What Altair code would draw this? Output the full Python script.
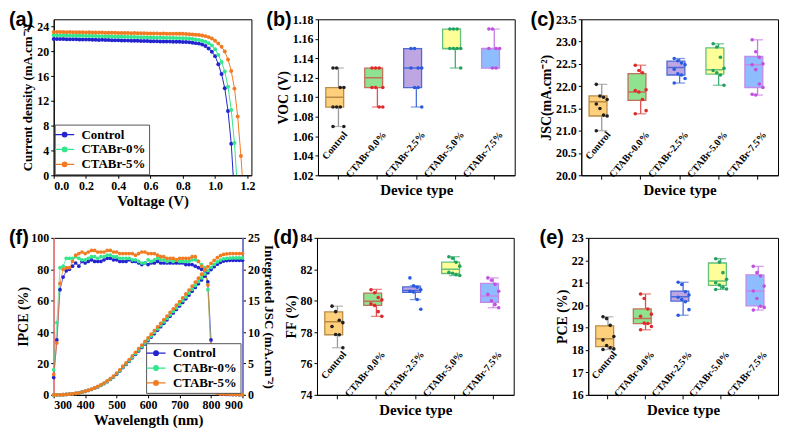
import altair as alt
import pandas as pd

SERIF = "Liberation Serif"
SANS = "Liberation Sans"

# ---------------- (a) J-V curves ----------------
SERIES = ["Control", "CTABr-0%", "CTABr-5%"]
SERIES_COLORS = ["#2323cf", "#34e68d", "#f27b22"]

V_GRID = [0.00, 0.02, 0.04, 0.06, 0.08, 0.10, 0.12, 0.14, 0.16, 0.18,
          0.20, 0.22, 0.24, 0.26, 0.28, 0.30, 0.32, 0.34, 0.36, 0.38,
          0.40, 0.42, 0.44, 0.46, 0.48, 0.50, 0.52, 0.54, 0.56, 0.58,
          0.60, 0.62, 0.64, 0.66, 0.68, 0.70, 0.72, 0.74, 0.76, 0.78,
          0.80, 0.82, 0.84, 0.86, 0.88, 0.90, 0.92, 0.94, 0.96, 0.98,
          1.00, 1.02, 1.04, 1.06, 1.08, 1.10, 1.12, 1.14, 1.16]

J_CONTROL = [22.02, 22.03, 22.00, 22.01, 21.98, 21.99, 21.96, 21.97, 21.94, 21.95,
             21.92, 21.93, 21.90, 21.90, 21.87, 21.88, 21.85, 21.86, 21.83, 21.83,
             21.80, 21.78, 21.79, 21.76, 21.74, 21.75, 21.72, 21.70, 21.71, 21.68,
             21.66, 21.67, 21.64, 21.62, 21.63, 21.60, 21.60, 21.57, 21.56, 21.56,
             21.55, 21.52, 21.48, 21.42, 21.35, 21.27, 21.12, 20.88, 20.48, 19.95,
             19.25, 17.95, 16.35, 14.05, 10.40, 5.10]
J_CTA0 = [22.62, 22.63, 22.60, 22.61, 22.58, 22.59, 22.56, 22.57, 22.54, 22.55,
          22.52, 22.53, 22.50, 22.50, 22.47, 22.48, 22.45, 22.46, 22.43, 22.43,
          22.40, 22.38, 22.39, 22.36, 22.34, 22.35, 22.32, 22.30, 22.31, 22.28,
          22.26, 22.27, 22.24, 22.22, 22.23, 22.20, 22.20, 22.17, 22.16, 22.16,
          22.15, 22.12, 22.08, 22.02, 21.95, 21.86, 21.74, 21.58, 21.35, 20.95,
          20.35, 19.45, 18.30, 16.75, 14.30, 10.55, 5.20]
J_CTA5 = [23.15, 23.16, 23.13, 23.15, 23.12, 23.13, 23.10, 23.12, 23.09, 23.10,
          23.08, 23.09, 23.06, 23.07, 23.05, 23.06, 23.03, 23.04, 23.02, 23.02,
          23.00, 22.99, 23.00, 22.97, 22.96, 22.97, 22.94, 22.93, 22.94, 22.91,
          22.90, 22.91, 22.89, 22.88, 22.89, 22.87, 22.87, 22.86, 22.85, 22.86,
          22.85, 22.82, 22.80, 22.76, 22.72, 22.66, 22.58, 22.48, 22.32, 22.10,
          21.75, 21.30, 20.75, 20.00, 18.70, 16.85, 14.00, 9.50, 3.10]
V_END = [1.112, 1.133, 1.168]

# ---------------- (f) IPCE + integrated Jsc ----------------
WL = list(range(300, 901, 10))
IPCE_CONTROL = [11, 35, 67, 75, 79, 80, 82, 84, 82, 85,
                84, 85, 86, 85, 85, 85, 86, 87, 87, 86,
                86, 85, 85, 85, 86, 85, 85, 84, 83, 84,
                83, 84, 84, 85, 84, 84, 84, 84, 84, 84,
                84, 84, 83, 83, 83, 82, 81, 80, 79, 72,
                35, 8, 1.5, 0.5, 0.5, 0.3, 0.3, 0.2, 0.2, 0.1, 0.1]
IPCE_CTA0 = [16, 46, 81, 82, 87, 87, 87, 88, 87, 86,
             86, 87, 88, 88, 87, 88, 88, 89, 89, 88,
             88, 87, 87, 87, 87, 86, 86, 85, 84, 84,
             86, 85, 86, 87, 86, 86, 85, 86, 85, 86,
             85, 85, 85, 85, 86, 86, 85, 83, 81, 67,
             30, 6, 2, 1.5, 1.5, 1.5, 1.5, 0.5, 0.3, 0.2, 0.2]
IPCE_CTA5 = [13, 33, 71, 80, 81, 81, 85, 89, 90, 91,
             90, 91, 92, 92, 91, 91, 91, 92, 92, 91,
             91, 90, 90, 90, 90, 90, 89, 90, 91, 91,
             90, 90, 90, 89, 88, 88, 87, 87, 87, 86,
             87, 87, 87, 87, 88, 88, 85, 82, 80, 70,
             25, 4, 1, 0.5, 0.5, 0.5, 0.3, 0.3, 0.2, 0.2, 0.2]
JSC_CONTROL = [0.0, 0.0, 0.01, 0.03, 0.06, 0.1, 0.15, 0.22, 0.31, 0.42,
               0.55, 0.7, 0.87, 1.06, 1.28, 1.52, 1.8, 2.1, 2.45, 2.85,
               3.3, 3.8, 4.35, 4.85, 5.35, 5.9, 6.45, 7.0, 7.55, 8.1,
               8.65, 9.2, 9.75, 10.3, 10.85, 11.4, 11.95, 12.5, 13.05, 13.6,
               14.15, 14.72, 15.3, 15.9, 16.5, 17.1, 17.7, 18.3, 18.9, 19.45,
               19.95, 20.4, 20.8, 21.1, 21.3, 21.38, 21.42, 21.43, 21.43, 21.43, 21.43]
JSC_CTA0 = [0.0, 0.0, 0.01, 0.03, 0.06, 0.1, 0.16, 0.23, 0.32, 0.43,
            0.56, 0.72, 0.89, 1.08, 1.3, 1.55, 1.84, 2.14, 2.5, 2.9,
            3.36, 3.87, 4.43, 4.94, 5.45, 6.0, 6.57, 7.13, 7.69, 8.25,
            8.81, 9.37, 9.93, 10.49, 11.05, 11.61, 12.17, 12.73, 13.29, 13.85,
            14.41, 14.99, 15.58, 16.19, 16.8, 17.41, 18.02, 18.63, 19.24, 19.8,
            20.31, 20.77, 21.17, 21.47, 21.67, 21.75, 21.79, 21.8, 21.8, 21.8, 21.8]
JSC_CTA5 = [0.0, 0.0, 0.01, 0.03, 0.06, 0.11, 0.16, 0.23, 0.33, 0.44,
            0.58, 0.74, 0.91, 1.11, 1.34, 1.6, 1.89, 2.21, 2.57, 2.99,
            3.47, 3.99, 4.57, 5.09, 5.62, 6.2, 6.77, 7.35, 7.93, 8.51,
            9.08, 9.66, 10.24, 10.82, 11.39, 11.97, 12.55, 13.13, 13.7, 14.28,
            14.86, 15.46, 16.07, 16.7, 17.33, 17.96, 18.59, 19.22, 19.85, 20.42,
            20.95, 21.42, 21.84, 22.16, 22.37, 22.45, 22.49, 22.5, 22.5, 22.5, 22.5]

# ---------------- box plots (b)-(e) ----------------
CATS = ["Control", "CTABr-0.0%", "CTABr-2.5%", "CTABr-5.0%", "CTABr-7.5%"]
BOX_FILL = ["#ffd07c", "#8fe28f", "#bea6e3", "#ffff99", "#8ebdff"]
BOX_EDGE = ["#b98c47", "#c2705a", "#4d6bd8", "#62c27a", "#c48ae8"]
WHISKER = ["#9a9a9a", "#e05050", "#4a72d8", "#3fae72", "#c77ae6"]
DOT = ["#202020", "#e02a2a", "#2a5ae0", "#22a060", "#c050e0"]

VOC_Q1 = [1.09, 1.11, 1.11, 1.15, 1.13]
VOC_MED = [1.10, 1.12, 1.13, 1.15, 1.15]
VOC_Q3 = [1.11, 1.13, 1.15, 1.17, 1.15]
VOC_LO = [1.07, 1.09, 1.09, 1.13, 1.13]
VOC_HI = [1.13, 1.13, 1.15, 1.17, 1.17]
VOC_PTS = [[1.13, 1.13, 1.11, 1.11, 1.09, 1.09, 1.09, 1.07, 1.07],
           [1.13, 1.13, 1.13, 1.11, 1.11, 1.11, 1.09, 1.09],
           [1.15, 1.15, 1.13, 1.13, 1.13, 1.11, 1.11, 1.09],
           [1.17, 1.17, 1.17, 1.15, 1.15, 1.15, 1.15, 1.13],
           [1.17, 1.17, 1.15, 1.15, 1.15, 1.13, 1.13]]

JSC_Q1 = [21.33, 21.68, 22.25, 22.27, 21.97]
JSC_MED = [21.65, 21.87, 22.42, 22.37, 22.48]
JSC_Q3 = [21.78, 22.28, 22.56, 22.86, 22.67]
JSC_LO = [21.0, 21.38, 22.07, 22.02, 21.8]
JSC_HI = [22.04, 22.47, 22.62, 22.95, 23.04]
JSC_PTS = [[22.04, 21.78, 21.75, 21.7, 21.6, 21.5, 21.35, 21.33, 21.0],
           [22.47, 22.35, 22.3, 21.92, 21.9, 21.87, 21.7, 21.45, 21.38],
           [22.62, 22.57, 22.52, 22.48, 22.38, 22.28, 22.25, 22.17, 22.07],
           [22.95, 22.88, 22.65, 22.4, 22.35, 22.3, 22.25, 22.02],
           [23.04, 22.77, 22.65, 22.5, 22.48, 22.37, 22.05, 21.97, 21.82, 21.8]]

FF_Q1 = [77.83, 79.7, 80.53, 81.73, 79.9]
FF_MED = [78.65, 79.97, 80.65, 82.0, 80.3]
FF_Q3 = [79.28, 80.48, 80.88, 82.45, 81.1]
FF_LO = [77.0, 79.0, 80.07, 81.6, 79.55]
FF_HI = [79.65, 80.72, 80.95, 82.8, 81.45]
FF_PTS = [[79.65, 79.3, 78.75, 78.6, 78.35, 77.85, 77.83, 77.0],
          [80.7, 80.5, 80.2, 80.05, 79.8, 79.7, 79.3, 79.0],
          [81.45, 80.95, 80.85, 80.7, 80.6, 80.55, 80.07, 79.45],
          [82.8, 82.7, 82.45, 82.2, 81.8, 81.75, 81.65, 81.6],
          [81.45, 81.3, 81.05, 80.6, 80.4, 80.0, 79.75, 79.55]]

PCE_Q1 = [18.15, 19.18, 20.18, 20.88, 19.97]
PCE_MED = [18.5, 19.4, 20.38, 21.08, 20.63]
PCE_Q3 = [19.08, 19.83, 20.63, 21.88, 21.35]
PCE_LO = [18.02, 18.9, 19.55, 20.7, 19.78]
PCE_HI = [19.48, 20.5, 21.02, 22.07, 21.73]
PCE_PTS = [[19.48, 19.4, 19.1, 18.6, 18.45, 18.2, 18.1, 18.05, 18.02],
           [20.5, 20.3, 19.83, 19.6, 19.5, 19.2, 19.18, 19.05, 18.9],
           [21.02, 20.92, 20.6, 20.45, 20.35, 20.25, 20.15, 19.8, 19.55],
           [22.07, 21.92, 21.45, 21.15, 21.0, 20.9, 20.8, 20.72, 20.7],
           [21.73, 21.45, 21.3, 20.85, 20.63, 20.3, 19.95, 19.9, 19.78]]

assert len(J_CONTROL) == 56 and len(J_CTA0) == 57 and len(J_CTA5) == 59
for arr in [IPCE_CONTROL, IPCE_CTA0, IPCE_CTA5, JSC_CONTROL, JSC_CTA0, JSC_CTA5]:
    assert len(arr) == len(WL), len(arr)

LEG_PATH = "M-1.6,0L1.6,0M-0.38,0A0.38,0.38 0 1,0 0.38,0A0.38,0.38 0 1,0 -0.38,0Z"
LANES = [-2, -1, 0, 1, 2, 3, 4, 5]


def panel_label(tag, dx, dy):
    return alt.Chart(pd.DataFrame({"t": [tag]})).mark_text(
        align="left", baseline="top", font=SANS, fontSize=20,
        fontWeight="bold", color="black"
    ).encode(x=alt.value(dx), y=alt.value(dy), text="t:N")


def series_legend(orient, offset):
    return alt.Legend(
        title=None, orient=orient, offset=offset, symbolType=LEG_PATH,
        symbolSize=144, symbolStrokeWidth=1.3, labelFont=SERIF,
        labelFontWeight="bold", labelFontSize=13, labelColor="black",
        strokeColor="#555555", fillColor="white", padding=3,
        rowPadding=1, labelOffset=10, cornerRadius=0
    )


sc_ser = alt.Scale(domain=SERIES, range=SERIES_COLORS)

# ---- panel (a)
rows = []
for s, J, vend in zip(SERIES, [J_CONTROL, J_CTA0, J_CTA5], V_END):
    for v, j in zip(V_GRID[:len(J)], J):
        rows.append({"series": s, "V": v, "J": j})
    rows.append({"series": s, "V": vend, "J": 0.0})
jv = pd.DataFrame(rows)
jv_pts = jv[jv["J"] > 0]

Xa = alt.X("V:Q", scale=alt.Scale(domain=[0, 1.225], nice=False, zero=False),
           axis=alt.Axis(title="Voltage (V)", values=[0, 0.2, 0.4, 0.6, 0.8, 1.0, 1.2],
                         format=".1f", titleFontSize=15))
Ya = alt.Y("J:Q", scale=alt.Scale(domain=[0, 25.2], nice=False),
           axis=alt.Axis(title="Current density (mA.cm⁻²)", values=[0, 4, 8, 12, 16, 20, 24],
                         titleFontSize=13))
leg_a = series_legend("bottom-left", 1)
a_line = alt.Chart(jv).mark_line(strokeWidth=1, clip=True).encode(
    x=Xa, y=Ya, color=alt.Color("series:N", scale=sc_ser, legend=leg_a))
a_pts = alt.Chart(jv_pts).mark_point(filled=True, size=16, opacity=1).encode(
    x=Xa, y=Ya, color=alt.Color("series:N", scale=sc_ser, legend=leg_a))
panel_a = alt.layer(a_line, a_pts, panel_label("(a)", -45, -9)).properties(width=199, height=157)

# ---- panel (f)
rows_i, rows_j = [], []
for s, ip, js in zip(SERIES, [IPCE_CONTROL, IPCE_CTA0, IPCE_CTA5], [JSC_CONTROL, JSC_CTA0, JSC_CTA5]):
    for w, a, b in zip(WL, ip, js):
        rows_i.append({"series": s, "wl": w, "ipce": a})
        rows_j.append({"series": s, "wl": w, "jsc": b})
ipce_df = pd.DataFrame(rows_i)
jsc_df = pd.DataFrame(rows_j)

Xf = alt.X("wl:Q", scale=alt.Scale(domain=[300, 900], nice=False, zero=False),
           axis=alt.Axis(title="Wavelength (nm)", values=list(range(300, 901, 100)),
                         format="d", titleFontSize=15))
Yl = alt.Y("ipce:Q", scale=alt.Scale(domain=[0, 100], nice=False),
           axis=alt.Axis(title="IPCE (%)", values=[0, 20, 40, 60, 80, 100],
                         domainColor="#e58080", domainWidth=1.6, titlePadding=0))
Yr = alt.Y("jsc:Q", scale=alt.Scale(domain=[0, 25], nice=False),
           axis=alt.Axis(title="Integrated JSC (mA.cm⁻²)", orient="right",
                         values=[0, 5, 10, 15, 20, 25], domainColor="#7c7ce6",
                         domainWidth=1.6, titleFontSize=13))
leg_f = series_legend("bottom-right", 2)
f_il = alt.Chart(ipce_df).mark_line(strokeWidth=0.7).encode(
    x=Xf, y=Yl, color=alt.Color("series:N", scale=sc_ser, legend=leg_f))
f_ip = alt.Chart(ipce_df).mark_point(filled=True, size=14, opacity=1).encode(
    x=Xf, y=Yl, color=alt.Color("series:N", scale=sc_ser, legend=leg_f))
f_jl = alt.Chart(jsc_df).mark_line(strokeWidth=0.7).encode(
    x=Xf, y=Yr, color=alt.Color("series:N", scale=sc_ser, legend=leg_f))
f_jp = alt.Chart(jsc_df).mark_point(filled=True, size=14, opacity=1).encode(
    x=Xf, y=Yr, color=alt.Color("series:N", scale=sc_ser, legend=leg_f))
panel_f = alt.layer(alt.layer(f_il, f_ip), alt.layer(f_jl, f_jp),
                    panel_label("(f)", -45, -10)).resolve_scale(y="independent").properties(width=190, height=158)


# ---- box panels
def box_panel(tag, ytitle, q1, med, q3, lo, hi, pts, dom, ticks, fmt, w, h, ldx, ldy):
    stats = pd.DataFrame({"cat": CATS, "q1": q1, "med": med, "q3": q3, "lo": lo, "hi": hi})
    prow = []
    for c, vals in zip(CATS, pts):
        for i, v in enumerate(vals):
            prow.append({"cat": c, "val": v, "lane": i % 4})
    pdf = pd.DataFrame(prow)
    X = alt.X("cat:N", sort=CATS,
              scale=alt.Scale(domain=CATS, paddingInner=0.35, paddingOuter=0.2),
              axis=alt.Axis(title="Device type", labelAngle=-50, labelAlign="right",
                            labelBaseline="middle", labelPadding=-47, labelOffset=7,
                            labelFontSize=10, tickSize=4, titleFontSize=15,
                            titlePadding=3, labelOverlap=False))
    yax = alt.Axis(title=ytitle, values=ticks, format=fmt)
    ysc = alt.Scale(domain=dom, nice=False, zero=False)

    def Y(field):
        return alt.Y(field, scale=ysc, axis=yax)

    def cs(rng):
        return alt.Scale(domain=CATS, range=rng)

    base = alt.Chart(stats)
    whisk = base.mark_rule(strokeWidth=1.3).encode(
        x=X, y=Y("lo:Q"), y2="hi:Q",
        color=alt.Color("cat:N", scale=cs(WHISKER), legend=None))
    cap_lo = base.mark_tick(thickness=1.3, size=11).encode(
        x=X, y=Y("lo:Q"), color=alt.Color("cat:N", scale=cs(WHISKER), legend=None))
    cap_hi = base.mark_tick(thickness=1.3, size=11).encode(
        x=X, y=Y("hi:Q"), color=alt.Color("cat:N", scale=cs(WHISKER), legend=None))
    box = base.mark_bar(strokeWidth=1.3, opacity=1).encode(
        x=X, y=Y("q1:Q"), y2="q3:Q",
        fill=alt.Fill("cat:N", scale=cs(BOX_FILL), legend=None),
        stroke=alt.Stroke("cat:N", scale=cs(BOX_EDGE), legend=None))
    medl = base.mark_bar(strokeWidth=1.5, fillOpacity=0).encode(
        x=X, y=Y("med:Q"), y2="med:Q",
        stroke=alt.Stroke("cat:N", scale=cs(BOX_EDGE), legend=None))
    dots = alt.Chart(pdf).mark_circle(size=13, opacity=1).encode(
        x=X, y=Y("val:Q"),
        xOffset=alt.XOffset("lane:O", scale=alt.Scale(domain=LANES, paddingOuter=0, paddingInner=0)),
        color=alt.Color("cat:N", scale=cs(DOT), legend=None))
    return alt.layer(whisk, cap_lo, cap_hi, box, medl, dots, panel_label(tag, ldx, ldy)).resolve_scale(
        color="independent", fill="independent", stroke="independent").properties(width=w, height=h)


panel_b = box_panel("(b)", "VOC (V)", VOC_Q1, VOC_MED, VOC_Q3, VOC_LO, VOC_HI, VOC_PTS,
                    [1.02, 1.18], [1.02, 1.04, 1.06, 1.08, 1.10, 1.12, 1.14, 1.16, 1.18], ".2f",
                    198, 157, -52, -9)
panel_c = box_panel("(c)", "JSC(mA.cm⁻²)", JSC_Q1, JSC_MED, JSC_Q3, JSC_LO, JSC_HI, JSC_PTS,
                    [20.0, 23.5], [20.0, 20.5, 21.0, 21.5, 22.0, 22.5, 23.0, 23.5], ".1f",
                    198, 157, -51, -9)
panel_d = box_panel("(d)", "FF (%)", FF_Q1, FF_MED, FF_Q3, FF_LO, FF_HI, FF_PTS,
                    [74, 84], [74, 76, 78, 80, 82, 84], "d", 198, 158, -44, -10)
panel_e = box_panel("(e)", "PCE (%)", PCE_Q1, PCE_MED, PCE_Q3, PCE_LO, PCE_HI, PCE_PTS,
                    [16, 23], [16, 17, 18, 19, 20, 21, 22, 23], "d", 191, 158, -49, -10)

RES = dict(color="independent", fill="independent", stroke="independent")
top = alt.hconcat(panel_a, panel_b, panel_c, spacing=67, bounds="flush").resolve_scale(**RES)
bot = alt.hconcat(panel_f, panel_d, panel_e, spacing=75, bounds="flush").resolve_scale(**RES)

chart = alt.concat(top, bot, columns=1, align="none", spacing=18, bounds="full").resolve_scale(**RES).properties(
    padding={"left": 0, "top": 0, "right": 0, "bottom": 0}
).configure_view(stroke="black", strokeWidth=1).configure_axis(
    labelFont=SERIF, labelFontWeight="bold", labelFontSize=12, labelColor="black",
    titleFont=SERIF, titleFontWeight="bold", titleFontSize=14, titleColor="black",
    domainColor="black", tickColor="black", tickSize=3, labelPadding=2,
    titlePadding=2, grid=False
)

chart.save("out.html", embed_options={"renderer": "svg", "actions": False})
